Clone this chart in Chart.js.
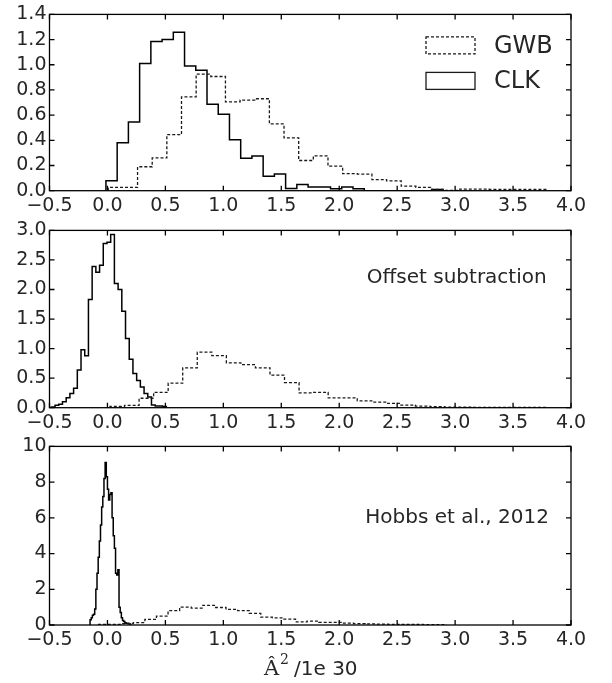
<!DOCTYPE html>
<html>
<head>
<meta charset="utf-8">
<script src="https://cdn.jsdelivr.net/npm/chart.js@4.4.1/dist/chart.umd.min.js"></script>
<style>
  body { margin: 0; background: #fff; }
  #wrap { position: relative; width: 612px; height: 683px; }
  canvas { position: absolute; left: 0; }
</style>
</head>
<body>
<div id="wrap">
  <canvas id="histRaw" width="612" height="224" style="top:0"></canvas>
  <canvas id="histOffset" width="612" height="224" style="top:216px"></canvas>
  <canvas id="histHobbs" width="612" height="251" style="top:432px"></canvas>
</div>
<script>
const xTicks = [-0.5, 0, 0.5, 1, 1.5, 2, 2.5, 3, 3.5, 4];
const yTicksRaw = [0, 0.2, 0.4, 0.6, 0.8, 1.0, 1.2, 1.4];
const yTicksOffset = [0, 0.5, 1.0, 1.5, 2.0, 2.5, 3.0];
const yTicksHobbs = [0, 2, 4, 6, 8, 10];

// histogram bins: first edge, bin width, normalised counts
const rawGwbStart = 0.007, rawGwbWidth = 0.1264;
const rawGwb = [0.026, 0.026, 0.19, 0.26, 0.445, 0.745, 0.925, 0.907, 0.705, 0.72, 0.73, 0.53, 0.42, 0.24, 0.277,
  0.195, 0.135, 0.132, 0.088, 0.078, 0.036, 0.026, 0.01, 0.003, 0.013, 0.012, 0.01, 0.01, 0.01, 0.01];
const rawClkStart = -0.013, rawClkWidth = 0.0969;
const rawClk = [0.08, 0.38, 0.545, 1.01, 1.185, 1.2, 1.258, 0.99, 0.957, 0.687, 0.607, 0.405, 0.257, 0.275, 0.114,
  0.132, 0.018, 0.05, 0.03, 0.03, 0.016, 0.03, 0.016, 0, 0, 0, 0, 0, 0, 0.01];

const offsetGwbStart = 0.022, offsetGwbWidth = 0.1255;
const offsetGwb = [0.02, 0.04, 0.16, 0.26, 0.415, 0.675, 0.94, 0.88, 0.76, 0.73, 0.675, 0.55, 0.425, 0.25, 0.26,
  0.166, 0.166, 0.116, 0.094, 0.072, 0.044, 0.028, 0.017, 0.01, 0.01, 0.006, 0.006, 0.005, 0.005, 0.005];
const offsetClkStart = -0.484, offsetClkWidth = 0.032;
const offsetClk = [0.01, 0.04, 0.06, 0.1, 0.17, 0.24, 0.33, 0.64, 0.98, 0.88, 1.83, 2.39, 2.29, 2.41, 2.78, 2.8,
  2.93, 2.1, 2.0, 1.63, 1.17, 0.82, 0.58, 0.46, 0.35, 0.24, 0.18, 0.045, 0.03, 0.03, 0.02];

const hobbsGwbStart = -0.077, hobbsGwbWidth = 0.1;
const hobbsGwb = [0.03, 0.04, 0.08, 0.13, 0.31, 0.5, 0.8, 1.0, 0.95, 1.1, 0.98, 0.87, 0.8, 0.65, 0.44, 0.4, 0.33,
  0.18, 0.22, 0.15, 0.15, 0.1, 0.08, 0.06, 0.05, 0.04, 0.03, 0.03, 0.02, 0.02];
const hobbsClkStart = -0.15, hobbsClkWidth = 0.01;
const hobbsClk = [0.3, 0.4, 0.55, 0.6, 0.9, 2.0, 2.9, 3.8, 4.7, 5.6, 6.6, 7.2, 8.2, 9.1, 8.3, 7.6, 7.0, 7.3, 7.4,
  6.0, 5.0, 4.3, 2.9, 2.8, 3.1, 1.0, 0.7, 0.4, 0.25, 0.2, 0.12, 0.1, 0.1, 0.08, 0.05];

const seriesNames = ["GWB", "CLK"];
const inkColor = "#1a1a1a";
const textColor = "#262626";

Chart.defaults.font.family = "'DejaVu Sans', sans-serif";
Chart.defaults.color = textColor;

// outline of a step histogram, like histtype="step"
function stepOutline(start, width, counts) {
  let pts = [{ x: start, y: 0 }];
  counts.forEach((c, i) => {
    pts.push({ x: start + i * width, y: c });
    pts.push({ x: start + (i + 1) * width, y: c });
  });
  pts.push({ x: start + counts.length * width, y: 0 });
  return pts;
};

// box around the axes with inward ticks on all four sides
const framePlugin = {
  id: "frame",
  afterDatasetsDraw(chart) {
    const { ctx, chartArea: { left, right, top, bottom }, scales: { x, y } } = chart;
    ctx.save();
    ctx.strokeStyle = "#000";
    ctx.lineWidth = 1.3;
    ctx.beginPath();
    x.ticks.forEach(({ value }) => {
      const px = x.getPixelForValue(value);
      ctx.moveTo(px, bottom); ctx.lineTo(px, bottom - 5);
      ctx.moveTo(px, top); ctx.lineTo(px, top + 5);
    });
    y.ticks.forEach(({ value }) => {
      const py = y.getPixelForValue(value);
      ctx.moveTo(left, py); ctx.lineTo(left + 5, py);
      ctx.moveTo(right, py); ctx.lineTo(right - 5, py);
    });
    ctx.stroke();
    ctx.strokeRect(left, top, right - left, bottom - top);
    ctx.restore();
  }
};

// legend with outlined patches, and the per-panel note
const notesPlugin = {
  id: "notes",
  afterDraw(chart, args, opts) {
    const { ctx, chartArea: { right, top, bottom }, scales: { x, y } } = chart;
    ctx.save();
    ctx.fillStyle = textColor;
    if (opts.legend) {
      chart.data.datasets.forEach((ds, i) => {
        const rowY = top + 31 + i * 35.5;
        ctx.strokeStyle = inkColor;
        ctx.lineWidth = 1.3;
        ctx.setLineDash(ds.borderDash || []);
        ctx.strokeRect(right - 145, rowY - 8.5, 49, 17);
        ctx.setLineDash([]);
        ctx.font = "24px 'DejaVu Sans'";
        ctx.textBaseline = "middle";
        ctx.textAlign = "left";
        ctx.fillText(ds.label, right - 77, rowY + 1);
      });
    };
    if (opts.text) {
      ctx.font = "20px 'DejaVu Sans'";
      ctx.textAlign = "right";
      ctx.textBaseline = "middle";
      ctx.fillText(opts.text, x.getPixelForValue(opts.x), y.getPixelForValue(opts.y));
    };
    if (opts.axisTitle) {
      const base = bottom + 50;
      ctx.textAlign = "left";
      ctx.textBaseline = "alphabetic";
      ctx.font = "21px 'DejaVu Serif'";
      ctx.fillText("\u00C2", 264, base);
      ctx.font = "14px 'DejaVu Serif'";
      ctx.fillText("2", 280, base - 11);
      ctx.font = "20px 'DejaVu Sans'";
      ctx.fillText("/1e 30", 294, base);
    };
    ctx.restore();
  }
};

function makePanel(canvasId, { gwb, clk, yTicks, yFormat, padTop, xAxisHeight, notes }) {
  return new Chart(document.getElementById(canvasId), {
    type: "line",
    data: {
      datasets: [{
        label: seriesNames[0],
        data: stepOutline(...gwb),
        borderColor: inkColor,
        borderWidth: 1.3,
        borderDash: [3, 2]
      }, {
        label: seriesNames[1],
        data: stepOutline(...clk),
        borderColor: "#000",
        borderWidth: 1.5
      }]
    },
    options: {
      responsive: false,
      animation: false,
      events: [],
      elements: { point: { radius: 0 }, line: { tension: 0, fill: false, borderJoinStyle: "miter" } },
      layout: { padding: { left: 0, right: 41, top: padTop, bottom: 0 } },
      plugins: { legend: { display: false }, tooltip: { enabled: false }, notes },
      scales: {
        x: {
          type: "linear",
          min: xTicks[0],
          max: xTicks[xTicks.length - 1],
          afterBuildTicks: (scale) => { scale.ticks = xTicks.map((value) => ({ value })); },
          afterFit: (scale) => { scale.height = xAxisHeight; },
          ticks: {
            autoSkip: false,
            maxRotation: 0,
            padding: 4,
            font: { size: 19 },
            color: textColor,
            callback: (v) => v.toFixed(1).replace("-", "\u2212")
          },
          grid: { display: false, drawTicks: false },
          border: { display: false }
        },
        y: {
          min: yTicks[0],
          max: yTicks[yTicks.length - 1],
          afterBuildTicks: (scale) => { scale.ticks = yTicks.map((value) => ({ value })); },
          afterFit: (scale) => { scale.width = 49.5; },
          ticks: {
            autoSkip: false,
            padding: 3,
            font: { size: 19 },
            color: textColor,
            callback: yFormat
          },
          grid: { display: false, drawTicks: false },
          border: { display: false }
        }
      }
    },
    plugins: [framePlugin, notesPlugin]
  });
};

makePanel("histRaw", {
  gwb: [rawGwbStart, rawGwbWidth, rawGwb],
  clk: [rawClkStart, rawClkWidth, rawClk],
  yTicks: yTicksRaw,
  yFormat: (v) => v.toFixed(1),
  padTop: 10.7,
  xAxisHeight: 33.3,
  notes: { legend: true }
});

makePanel("histOffset", {
  gwb: [offsetGwbStart, offsetGwbWidth, offsetGwb],
  clk: [offsetClkStart, offsetClkWidth, offsetClk],
  yTicks: yTicksOffset,
  yFormat: (v) => v.toFixed(1),
  padTop: 10.7,
  xAxisHeight: 32.3,
  notes: { text: "Offset subtraction", x: 3.79, y: 2.2 }
});

makePanel("histHobbs", {
  gwb: [hobbsGwbStart, hobbsGwbWidth, hobbsGwb],
  clk: [hobbsClkStart, hobbsClkWidth, hobbsClk],
  yTicks: yTicksHobbs,
  yFormat: (v) => v.toFixed(0),
  padTop: 12.3,
  xAxisHeight: 58,
  notes: { text: "Hobbs et al., 2012", x: 3.81, y: 6.0, axisTitle: true }
});
</script>
</body>
</html>
